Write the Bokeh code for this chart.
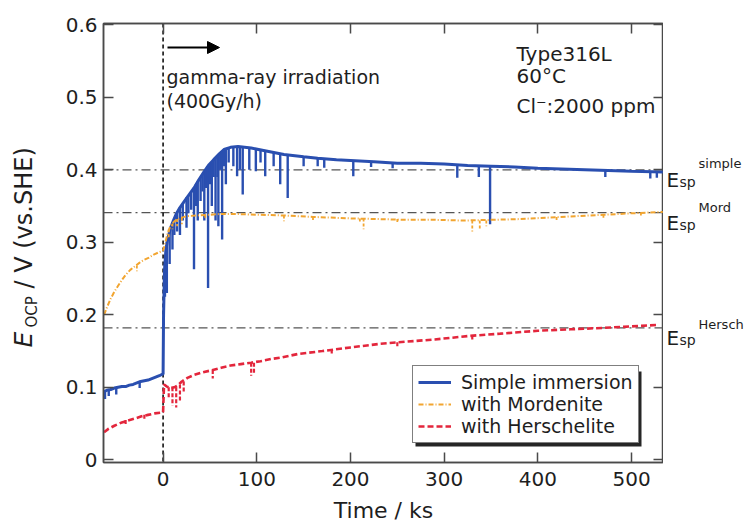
import numpy as np
from bokeh.plotting import figure
from bokeh.layouts import row
from bokeh.models import (Range1d, FixedTicker, CustomJSTickFormatter, LinearAxis, Span, Label,
                          Legend, LegendItem, Arrow, NormalHead, BoxAnnotation)
from bokeh.embed import file_html
from bokeh.resources import INLINE

# ---------------- data ----------------
x_ticks = [0, 100, 200, 300, 400, 500]
y_ticks = [0.0, 0.1, 0.2, 0.3, 0.4, 0.5, 0.6]

series_names = ["Simple immersion", "with Mordenite", "with Herschelite"]

# Simple immersion (time in ks, potential in V vs SHE)
simple_t = [-63, -60, -56, -52, -48, -44, -40, -36, -32, -28,
            -24, -20, -16, -12, -8, -4, -1, 0, 0.5, 1.5,
            3, 5, 8, 11, 14, 18, 23, 28, 33, 38,
            44, 49, 54, 60, 65, 72, 80, 94, 110, 129,
            150, 165, 185, 200, 225, 250, 275, 300, 325, 350,
            375, 400, 425, 450, 475, 500, 534]
simple_v = [0.094, 0.096, 0.097, 0.099, 0.100, 0.101, 0.101, 0.103, 0.104, 0.106,
            0.108, 0.109, 0.110, 0.112, 0.114, 0.116, 0.118, 0.118, 0.200, 0.260,
            0.290, 0.305, 0.320, 0.330, 0.339, 0.348, 0.357, 0.366, 0.375, 0.386,
            0.398, 0.407, 0.414, 0.422, 0.428, 0.431, 0.432, 0.430, 0.426, 0.421,
            0.418, 0.416, 0.414, 0.413, 0.411, 0.409, 0.409, 0.408, 0.406, 0.405,
            0.404, 0.402, 0.401, 0.400, 0.399, 0.398, 0.397]
# downward potential spikes of the simple-immersion record
simple_spike_t = [-62, -58, -50, -25, 2, 4, 7, 10, 12, 15,
                  18, 21, 25, 27, 30, 33, 35, 37, 40, 42,
                  44, 46, 48, 50, 52, 54, 56, 58, 59, 61,
                  63, 65, 67, 70, 75, 79, 82, 85, 92, 99,
                  104, 109, 118, 125, 133, 150, 165, 172, 203, 222,
                  245, 314, 337, 349, 472, 520, 527]
simple_spike_top = [0.095, 0.096, 0.099, 0.108, 0.27, 0.30, 0.315, 0.328, 0.333, 0.341,
                    0.348, 0.353, 0.362, 0.365, 0.370, 0.375, 0.380, 0.384, 0.39, 0.394,
                    0.398, 0.401, 0.405, 0.408, 0.41, 0.414, 0.416, 0.419, 0.42, 0.423,
                    0.426, 0.428, 0.429, 0.430, 0.432, 0.432, 0.432, 0.432, 0.431, 0.429,
                    0.428, 0.427, 0.424, 0.422, 0.420, 0.418, 0.416, 0.415, 0.413, 0.411,
                    0.409, 0.407, 0.406, 0.405, 0.399, 0.398, 0.397]
simple_spike_bottom = [0.084, 0.088, 0.090, 0.099, 0.225, 0.23, 0.27, 0.29, 0.31, 0.315,
                       0.31, 0.33, 0.32, 0.34, 0.345, 0.263, 0.35, 0.33, 0.357, 0.37,
                       0.33, 0.375, 0.237, 0.38, 0.35, 0.39, 0.33, 0.39, 0.322, 0.40,
                       0.304, 0.405, 0.38, 0.41, 0.405, 0.391, 0.40, 0.366, 0.40, 0.398,
                       0.41, 0.391, 0.405, 0.380, 0.361, 0.405, 0.405, 0.403, 0.391, 0.404,
                       0.402, 0.389, 0.39, 0.325, 0.39, 0.388, 0.389]

# with Mordenite
mord_t = [-63, -60, -56, -52, -48, -44, -40, -35, -30, -25,
          -20, -15, -10, -5, -1, 0, 1, 3, 5, 8,
          12, 16, 20, 25, 35, 50, 60, 80, 100, 130,
          160, 200, 230, 260, 290, 320, 350, 380, 410, 440,
          470, 500, 534]
mord_v = [0.200, 0.210, 0.222, 0.232, 0.240, 0.248, 0.255, 0.262, 0.267, 0.272,
          0.276, 0.279, 0.283, 0.286, 0.288, 0.289, 0.293, 0.303, 0.313, 0.323,
          0.329, 0.332, 0.334, 0.336, 0.337, 0.338, 0.339, 0.339, 0.338, 0.337,
          0.335, 0.333, 0.332, 0.331, 0.331, 0.330, 0.331, 0.332, 0.334, 0.336,
          0.338, 0.340, 0.342]
mord_dip_t = [-28, 6, 10, 15, 20, 45, 129, 160, 210, 214, 250, 330, 338, 345, 420, 470, 510]
mord_dip_top = [0.268, 0.318, 0.326, 0.332, 0.334, 0.338, 0.337, 0.335, 0.333, 0.333,
                0.332, 0.330, 0.330, 0.330, 0.335, 0.338, 0.341]
mord_dip_bottom = [0.26, 0.305, 0.318, 0.322, 0.325, 0.332, 0.329, 0.33, 0.326, 0.318,
                   0.326, 0.315, 0.318, 0.322, 0.33, 0.333, 0.336]

# with Herschelite
hersch_t = [-63, -58, -52, -45, -38, -30, -23, -16, -9, -2,
            0, 1, 4, 8, 12, 16, 20, 26, 33, 40,
            50, 62, 72, 83, 94, 104, 115, 126, 144, 170,
            200, 232, 260, 290, 328, 360, 400, 435, 470, 500,
            528]
hersch_v = [0.038, 0.043, 0.047, 0.051, 0.054, 0.057, 0.060, 0.062, 0.064, 0.065,
            0.066, 0.104, 0.101, 0.099, 0.100, 0.103, 0.108, 0.113, 0.117, 0.120,
            0.123, 0.127, 0.130, 0.132, 0.134, 0.136, 0.139, 0.141, 0.146, 0.150,
            0.155, 0.160, 0.163, 0.166, 0.171, 0.174, 0.178, 0.180, 0.182, 0.184,
            0.186]
hersch_dip_t = [-40, -20, 6, 10, 14, 18, 22, 53, 94, 97, 180, 250, 330]
hersch_dip_top = [0.055, 0.062, 0.1, 0.1, 0.1, 0.104, 0.108, 0.124, 0.134, 0.134, 0.152, 0.162, 0.171]
hersch_dip_bottom = [0.048, 0.056, 0.085, 0.075, 0.072, 0.08, 0.092, 0.112, 0.116, 0.12, 0.145, 0.156, 0.166]

# pitting potentials (dash-dot reference levels)
esp_names = ["simple", "Mord", "Hersch"]
esp_values = [0.400, 0.341, 0.182]
irradiation_start = 0

# ---------------- layout / style ----------------
FONT = "DejaVu Sans"
BLUE = "#2A4FB0"
ORANGE = "#F2A530"
RED = "#E3263C"
FRAME = "#4a4a4a"
TXT = "#1e1e1e"

W, H = 747, 525
LEFT_W, RIGHT_W = 48, 84          # side strips holding the outer texts
XMIN, XMAX = -63.6, 534.1
YMIN, YMAX = -0.0037, 0.6018
FL, FR, FT, FB = 103, 663, 23, 462   # frame edges in page pixels


def X(px):
    return XMIN + (px - FL) * (XMAX - XMIN) / (FR - FL)


def Y(py):
    return YMAX - (py - FT) * (YMAX - YMIN) / (FB - FT)


DY = (YMAX - YMIN) / (FB - FT)   # data units per pixel (vertical)


def lab(fig, x, y, text, size, align="left", style="normal", angle=0.0,
        baseline="alphabetic", color=TXT):
    fig.add_layout(Label(x=x, y=y, text=text, text_font=FONT,
                         text_font_size=f"{size}px", text_font_style=style,
                         text_align=align, text_baseline=baseline,
                         text_color=color, angle=angle))


p = figure(width=W - LEFT_W - RIGHT_W, height=H,
           x_range=Range1d(XMIN, XMAX), y_range=Range1d(YMIN, YMAX),
           output_backend="svg", toolbar_location=None,
           x_axis_location=None, y_axis_location=None,
           min_border_left=FL - LEFT_W, min_border_right=0,
           min_border_top=FT, min_border_bottom=H - FB,
           background_fill_color="white", border_fill_color="white")
p.outline_line_color = FRAME
p.outline_line_width = 1.5
p.grid.visible = False

# axes
ax_left = LinearAxis(ticker=FixedTicker(ticks=y_ticks),
                     formatter=CustomJSTickFormatter(code="return (Math.round(tick*10)/10).toString();"))
ax_bottom = LinearAxis(ticker=FixedTicker(ticks=x_ticks), axis_label="Time / ks")
ax_right = LinearAxis(ticker=FixedTicker(ticks=y_ticks),
                      formatter=CustomJSTickFormatter(code="return '';"))
ax_top = LinearAxis(ticker=FixedTicker(ticks=x_ticks),
                    formatter=CustomJSTickFormatter(code="return '';"))
for ax in (ax_left, ax_bottom, ax_right, ax_top):
    ax.major_tick_in = 10
    ax.major_tick_out = 0
    ax.major_tick_line_color = FRAME
    ax.major_tick_line_width = 1.5
    ax.minor_tick_line_color = None
    ax.axis_line_color = FRAME
    ax.axis_line_width = 1.5
    ax.major_label_text_font = FONT
    ax.major_label_text_font_size = "20px"
    ax.major_label_text_color = TXT
ax_left.major_label_standoff = 6
ax_bottom.major_label_standoff = 9
ax_bottom.axis_label_text_font = FONT
ax_bottom.axis_label_text_font_size = "22px"
ax_bottom.axis_label_text_font_style = "normal"
ax_bottom.axis_label_text_color = TXT
ax_bottom.axis_label_standoff = 9
for ax in (ax_right, ax_top):
    ax.major_label_standoff = 0
    ax.major_label_text_font_size = "1px"
p.add_layout(ax_left, "left")
p.add_layout(ax_bottom, "below")
p.add_layout(ax_right, "right")
p.add_layout(ax_top, "above")

# reference lines
for v in esp_values:
    p.add_layout(Span(location=v, dimension="width", line_color="#555555",
                      line_dash="9 4 2 4", line_width=1.3, level="underlay"))
p.add_layout(Span(location=irradiation_start, dimension="height", line_color="#111111",
                  line_dash="4 3", line_width=1.6, level="underlay"))

# data
r_simple = p.line(simple_t, simple_v, line_color=BLUE, line_width=3.0)
p.segment(simple_spike_t, simple_spike_top, simple_spike_t, simple_spike_bottom,
          line_color=BLUE, line_width=2.4)
r_mord = p.line(mord_t, mord_v, line_color=ORANGE, line_width=2.0, line_dash="5 2 1 2")
p.segment(mord_dip_t, mord_dip_top, mord_dip_t, mord_dip_bottom,
          line_color=ORANGE, line_width=1.8, line_dash="3 2")
r_hersch = p.line(hersch_t, hersch_v, line_color=RED, line_width=2.6, line_dash="6 3")
p.segment(hersch_dip_t, hersch_dip_top, hersch_dip_t, hersch_dip_bottom,
          line_color=RED, line_width=2.2, line_dash="4 2")

# legend with a drop shadow
p.add_layout(BoxAnnotation(left=X(415), right=X(641), top=Y(371), bottom=Y(446),
                           fill_color="black", fill_alpha=0.85, line_color=None))
legend = Legend(items=[LegendItem(label=series_names[0], renderers=[r_simple]),
                       LegendItem(label=series_names[1], renderers=[r_mord]),
                       LegendItem(label=series_names[2], renderers=[r_hersch])],
                location=(309, 19), orientation="vertical",
                label_text_font=FONT, label_text_font_size="19px", label_text_color=TXT,
                glyph_width=33, glyph_height=22, label_height=22, label_standoff=10,
                padding=5, spacing=0, margin=0,
                border_line_color="black", border_line_width=1.5,
                background_fill_color="white", background_fill_alpha=1.0)
p.add_layout(legend)

# irradiation annotation
p.add_layout(Arrow(end=NormalHead(size=12, fill_color="black", line_color="black", line_width=1),
                   x_start=X(167), y_start=Y(47), x_end=X(219), y_end=Y(47),
                   line_color="black", line_width=1.8))
lab(p, X(166), Y(76), "gamma-ray irradiation", 19)
lab(p, X(166), Y(100), "(400Gy/h)", 19)

# conditions
lab(p, X(516), Y(53), "Type316L", 20)
lab(p, X(516), Y(75), "60°C", 20)
lab(p, X(516), Y(105), "Cl⁻:2000 ppm", 20)


def strip(width):
    # frame kept level with the main plot's frame; x in strip pixels, y in page pixels
    f = figure(width=width, height=H, x_range=Range1d(0, width), y_range=Range1d(FB, FT),
               output_backend="svg", toolbar_location=None,
               x_axis_location=None, y_axis_location=None,
               min_border_left=0, min_border_right=0,
               min_border_top=FT, min_border_bottom=H - FB,
               outline_line_color=None,
               background_fill_color="white", border_fill_color="white")
    f.grid.visible = False
    return f


# left strip: y-axis title (rotated; anchors shifted for the rotated baseline)
left = strip(LEFT_W)
lab(left, 23, 347, "E", 25, style="italic", angle=np.pi / 2)
lab(left, 31, 327, "OCP", 15, angle=np.pi / 2)
lab(left, 23, 288, "/ V (vs.SHE)", 24, angle=np.pi / 2)

# right strip: pitting-potential labels
right = strip(RIGHT_W)
sup_offsets = [6, 5, 3]
for name, v, so in zip(esp_names, esp_values, sup_offsets):
    py_line = FT + (YMAX - v) / DY
    lab(right, 3, py_line + 10, "E", 20)
    lab(right, 16, py_line + 12, "sp", 14)
    lab(right, 35, py_line - so, name, 13)

layout = row(left, p, right, spacing=0)
open("out.html", "w").write(file_html(layout, INLINE, "E_OCP vs time"))
